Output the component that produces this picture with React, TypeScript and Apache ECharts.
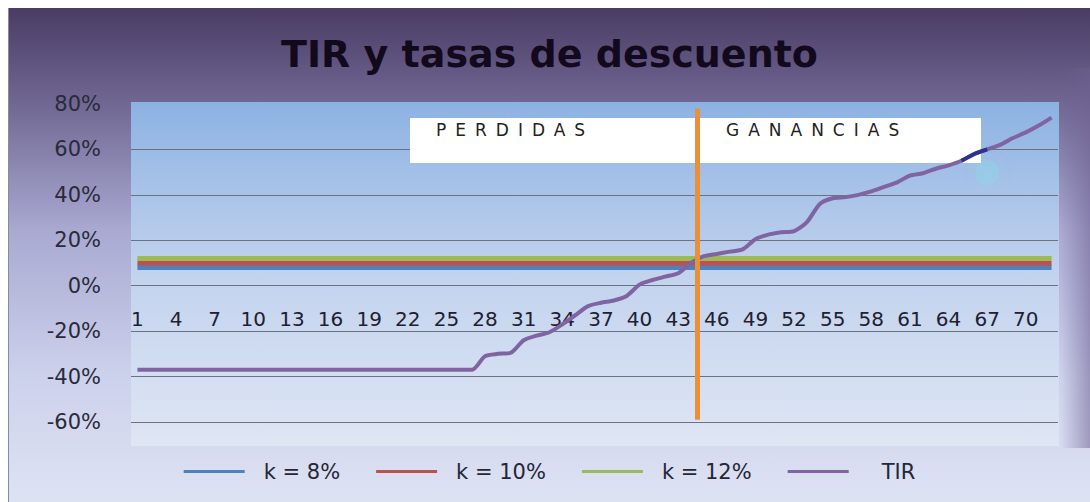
import React, { useEffect, useRef } from "react";
import * as echarts from "echarts";

const categories: string[] = Array.from({ length: 72 }, (_, i) => String(i + 1));

const tirValues: number[] = [
  -37, -37, -37, -37, -37, -37, -37, -37, -37, -37,
  -37, -37, -37, -37, -37, -37, -37, -37, -37, -37,
  -37, -37, -37, -37, -37, -37, -37,
  -31, -30, -29.5, -24, -22, -20.5, -17, -13, -9, -7.5,
  -6.5, -4.5, 0.5, 2.5, 4, 5.5, 10, 13, 14, 15,
  16, 20.5, 22.5, 23.5, 24, 28, 36, 38.5, 39, 40,
  41.5, 43.5, 45.5, 48.5, 49.5, 51.5, 53, 55, 58, 60,
  62, 65, 67.5, 70.5, 74,
];

const kRates: number[] = [8, 10, 12];
const kNames: string[] = ["k = 8%", "k = 10%", "k = 12%"];
const kColors: string[] = ["#4F81BD", "#C0504D", "#9BBB59"];

const yMin = -60;
const yMax = 80;
const yInterval = 20;

// vertical separator between category 44 and 45 (value axis coordinate)
const separatorX = 44.5;
const separatorY: number[] = [78, -59];

// categories drawn in dark blue on top of the TIR line
const highlightedCats: number[] = [65, 66, 67];
// cyan glow point
const glowPoint: number[] = [67, 50];

const FONT = "DejaVu Sans";
const LEGEND_ICON = "path://M0,9 L61,9 L61,12 L0,12 Z";

export default function App() {
  const ref = useRef<HTMLDivElement>(null);

  useEffect(() => {
    if (!ref.current) return;
    const chart = echarts.init(ref.current, undefined, { renderer: "svg" });

    const kSeries = kRates.map((rate, i) => ({
      name: kNames[i],
      type: "line",
      data: categories.map(() => rate),
      symbol: "none",
      silent: true,
      lineStyle: { color: kColors[i], width: 5 },
      itemStyle: { color: kColors[i] },
      z: 3,
    }));

    const option: any = {
      animation: false,
      backgroundColor: {
        type: "linear",
        x: 0, y: 0, x2: 0, y2: 1,
        colorStops: [
          { offset: 0, color: "#4a3c64" },
          { offset: 0.18, color: "#6d6490" },
          { offset: 0.45, color: "#a9a9d2" },
          { offset: 0.75, color: "#cdd2ec" },
          { offset: 1, color: "#dde2f3" },
        ],
      },
      title: {
        text: "TIR y tasas de descuento",
        left: "center",
        top: 22,
        textStyle: {
          fontFamily: FONT,
          fontWeight: "bold",
          fontSize: 38,
          color: "#120a1c",
        },
      },
      grid: { left: 122, right: 32, top: 96, bottom: 80, containLabel: false },
      legend: {
        left: "center",
        top: 448,
        itemWidth: 61,
        itemHeight: 20,
        itemGap: 36,
        selectedMode: false,
        textStyle: {
          fontFamily: FONT,
          fontSize: 21,
          color: "#262636",
          padding: [0, 0, 0, 14],
        },
        data: [
          { name: kNames[0], icon: LEGEND_ICON },
          { name: kNames[1], icon: LEGEND_ICON },
          { name: kNames[2], icon: LEGEND_ICON },
          {
            name: "TIR",
            icon: LEGEND_ICON,
            textStyle: { padding: [0, 0, 0, 28] },
          },
        ],
      },
      xAxis: [
        {
          type: "category",
          data: categories,
          boundaryGap: true,
          position: "bottom",
          offset: -91,
          axisLine: { show: false },
          axisTick: { show: false },
          splitLine: { show: false },
          axisLabel: {
            interval: 2,
            inside: true,
            margin: 2,
            fontFamily: FONT,
            fontSize: 20,
            color: "#202030",
          },
        },
        {
          type: "value",
          min: 0.5,
          max: 72.5,
          show: false,
          splitLine: { show: false },
        },
      ],
      yAxis: {
        type: "value",
        min: yMin,
        max: yMax,
        interval: yInterval,
        axisLine: { show: false },
        axisTick: { show: false },
        axisLabel: {
          formatter: "{value}%",
          margin: 30,
          fontFamily: FONT,
          fontSize: 21,
          color: "#2a2a3a",
        },
        splitLine: {
          show: true,
          showMaxLine: false,
          lineStyle: { color: "#6d7181", width: 1 },
        },
      },
      graphic: [
        {
          type: "rect",
          z: -1,
          silent: true,
          shape: { x: 122, y: 94, width: 928, height: 344 },
          style: {
            fill: {
              type: "linear",
              x: 0, y: 0, x2: 0, y2: 1,
              colorStops: [
                { offset: 0, color: "#8cb2e2" },
                { offset: 0.5, color: "#c2d3ee" },
                { offset: 1, color: "#dfe6f4" },
              ],
            },
          },
        },
        {
          type: "rect",
          z: -1,
          silent: true,
          shape: { x: 1052, y: 60, width: 30, height: 380 },
          style: {
            fill: {
              type: "linear",
              x: 0, y: 0, x2: 1, y2: 0,
              colorStops: [
                { offset: 0, color: "rgba(110,95,145,0)" },
                { offset: 1, color: "rgba(110,95,145,0.55)" },
              ],
            },
          },
        },
        {
          type: "rect",
          z: 1,
          silent: true,
          shape: { x: 401, y: 110, width: 571, height: 45 },
          style: { fill: "#ffffff" },
        },
        {
          type: "text",
          z: 1,
          silent: true,
          x: 427,
          y: 122,
          style: {
            text: "PERDIDAS",
            fontFamily: FONT,
            fontSize: 17,
            fill: "#222222",
            verticalAlign: "middle",
          },
        },
        {
          type: "text",
          z: 1,
          silent: true,
          x: 717,
          y: 122,
          style: {
            text: "GANANCIAS",
            fontFamily: FONT,
            fontSize: 17,
            fill: "#222222",
            verticalAlign: "middle",
          },
        },
      ],
      series: [
        ...kSeries,
        {
          name: "TIR",
          type: "line",
          data: tirValues,
          symbol: "none",
          smooth: 0.25,
          silent: true,
          lineStyle: { color: "#8064A2", width: 4 },
          itemStyle: { color: "#8064A2" },
          z: 4,
        },
        {
          name: "sel",
          type: "line",
          data: tirValues.map((v, i) => (highlightedCats.includes(i + 1) ? v : null)),
          symbol: "none",
          smooth: 0.25,
          silent: true,
          lineStyle: { color: "#2b3590", width: 4 },
          z: 5,
        },
        {
          name: "glow",
          type: "scatter",
          xAxisIndex: 1,
          data: [glowPoint],
          symbolSize: 24,
          silent: true,
          itemStyle: {
            color: "rgba(130,225,235,0.3)",
            shadowBlur: 12,
            shadowColor: "rgba(130,225,235,0.6)",
          },
          z: 3,
        },
        {
          name: "separator",
          type: "line",
          xAxisIndex: 1,
          data: [
            [separatorX, separatorY[0]],
            [separatorX, separatorY[1]],
          ],
          symbol: "none",
          silent: true,
          lineStyle: { color: "#E8913A", width: 5 },
          z: 6,
        },
      ],
    };

    chart.setOption(option);

    const applySpacing = () => {
      if (!ref.current) return;
      ref.current.querySelectorAll("text").forEach((t) => {
        const s = (t.textContent || "").trim();
        if (s === "PERDIDAS" || s === "GANANCIAS") {
          t.setAttribute("letter-spacing", "9px");
        }
      });
    };
    applySpacing();
    chart.on("finished", applySpacing);

    return () => {
      chart.dispose();
    };
  }, []);

  return (
    <div
      style={{
        position: "fixed",
        left: 8,
        top: 8,
        width: 1082,
        height: 494,
        borderLeft: "1px solid #8a8a98",
        boxSizing: "border-box",
        overflow: "hidden",
      }}
    >
      <div ref={ref} style={{ width: 1081, height: 494 }} />
    </div>
  );
}
